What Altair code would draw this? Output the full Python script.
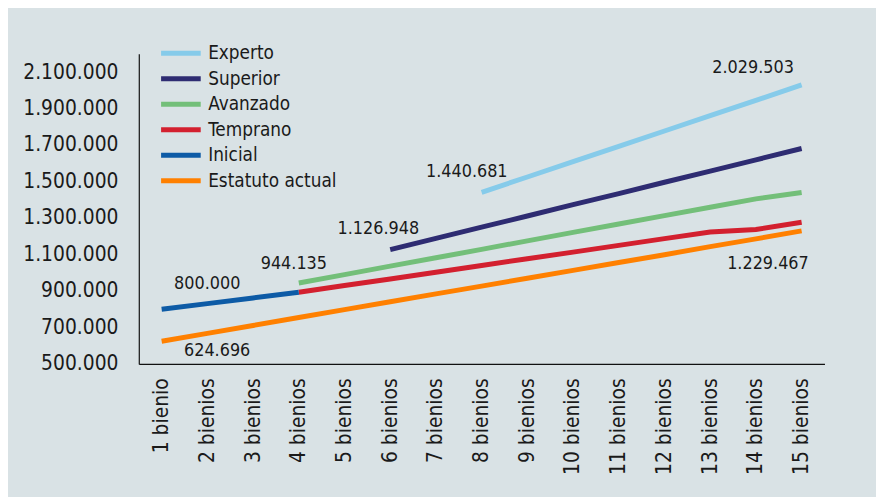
import altair as alt
import pandas as pd

categories = ["1 bienio"] + [f"{i} bienios" for i in range(2, 16)]

series_names = ["Experto", "Superior", "Avanzado", "Temprano", "Inicial", "Estatuto actual"]
line_colors = ["#86cbea", "#2e2c72", "#73bf79", "#d3202f", "#0d5ba6", "#ff8000"]

experto = [None] * 7 + [1440681, 1525000, 1609000, 1693000, 1777000, 1861000, 1945000, 2029503]
superior = [None] * 5 + [1126948, 1188000, 1250000, 1311000, 1373000, 1434000, 1496000, 1557000, 1619000, 1681000]
avanzado = [None] * 3 + [944135, 990000, 1036000, 1082000, 1128000, 1175000, 1221000, 1267000, 1313000, 1359000, 1405000, 1440000]
temprano = [None] * 3 + [893000, 930000, 966000, 1003000, 1040000, 1077000, 1113000, 1150000, 1187000, 1223000, 1237000, 1277000]
inicial = [800000, 831000, 862000, 893000] + [None] * 11
estatuto = [624696, 668000, 711000, 754600, 797800, 841000, 884000, 927000, 970000, 1013000,
            1056000, 1099000, 1143000, 1186000, 1229467]

y_ticks = [500000, 700000, 900000, 1100000, 1300000, 1500000, 1700000, 1900000, 2100000]

# annotated values: (series, category, text)
annotations = [
    ("Inicial", "1 bienio", "800.000"),
    ("Estatuto actual", "1 bienio", "624.696"),
    ("Avanzado", "4 bienios", "944.135"),
    ("Superior", "6 bienios", "1.126.948"),
    ("Experto", "8 bienios", "1.440.681"),
    ("Experto", "15 bienios", "2.029.503"),
    ("Estatuto actual", "15 bienios", "1.229.467"),
]
label_offsets = [(46, -25), (56, 10), (-5, -19), (-12, -21), (-15, -20), (-49, -17), (-34, 33)]

all_series = [experto, superior, avanzado, temprano, inicial, estatuto]
rows = []
for name, vals in zip(series_names, all_series):
    for i, (c, v) in enumerate(zip(categories, vals)):
        if v is not None:
            rows.append({"serie": name, "cat": c, "valor": v, "orden": i})
df = pd.DataFrame(rows)

FONT = "DejaVu Sans Condensed, Liberation Sans, sans-serif"

x_enc = alt.X("cat:N", sort=categories,
              scale=alt.Scale(type="point", padding=0.5, domain=categories),
              axis=alt.Axis(title=None, labelAngle=-90, ticks=False, domainColor="#111",
                            domainWidth=1.2, labelFontSize=21, labelColor="#1a1a1a",
                            labelPadding=14, labelFont=FONT, labelOverlap=False))
y_enc = alt.Y("valor:Q", scale=alt.Scale(domain=[500000, 2200000], nice=False, zero=False),
              axis=alt.Axis(title=None, values=y_ticks, grid=False, ticks=False,
                            domainColor="#111", domainWidth=1.2, labelFontSize=21,
                            labelColor="#1a1a1a", labelPadding=21, labelFont=FONT,
                            labelOverlap=False,
                            labelExpr="replace(replace(format(datum.value, ','), ',', '.'), ',', '.')"))

lines = alt.Chart(df).mark_line(strokeWidth=5).encode(
    x=x_enc,
    y=y_enc,
    color=alt.Color("serie:N", scale=alt.Scale(domain=series_names, range=line_colors),
                    legend=alt.Legend(title=None, orient="none", legendX=30, legendY=-13,
                                      symbolType="M-2,0H2", symbolSize=400, symbolStrokeWidth=5,
                                      labelOffset=15, labelFontSize=19, labelFont=FONT,
                                      labelColor="#1a1a1a", rowPadding=2.7, labelLimit=300)),
    detail="serie:N",
    order="orden:Q",
)

layers = [lines]
for (s, c, t), (dx, dy) in zip(annotations, label_offsets):
    sub = df[(df.serie == s) & (df.cat == c)].assign(txt=t)
    layers.append(
        alt.Chart(sub).mark_text(dx=dx, dy=dy, fontSize=18, font=FONT, color="#1a1a1a").encode(
            x=x_enc, y=y_enc, text="txt:N")
    )

chart = alt.layer(*layers).properties(
    width=692, height=313,
    background="#d9e2e5",
    autosize=alt.AutoSizeParams(type="none"),
    padding={"left": 132, "top": 44, "right": 52, "bottom": 132},
).configure_view(stroke=None).configure_axisY(labelOverlap=False)

chart.save("out.html", embed_options={"renderer": "svg", "actions": False})
